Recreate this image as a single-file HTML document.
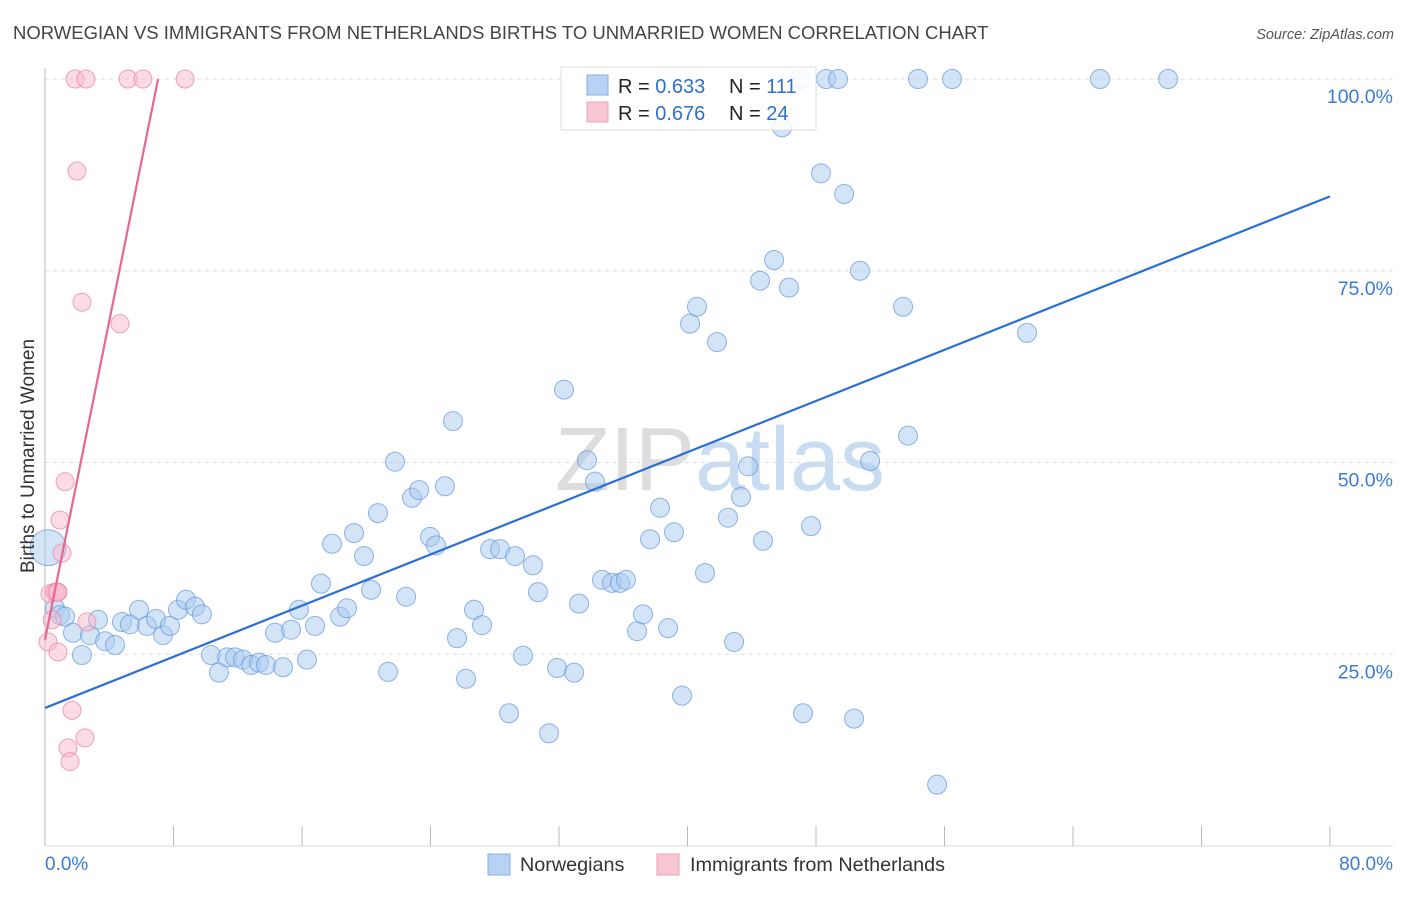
<!DOCTYPE html>
<html><head><meta charset="utf-8"><style>
body{margin:0;background:#fff;font-family:"Liberation Sans",sans-serif;}
svg text{font-family:"Liberation Sans",sans-serif;}
</style></head><body>
<svg id="chart" width="1406" height="892">
<text x="13" y="39" font-size="18.5" fill="#444">NORWEGIAN VS IMMIGRANTS FROM NETHERLANDS BIRTHS TO UNMARRIED WOMEN CORRELATION CHART</text>
<text x="1394" y="39" font-size="14.5" fill="#555" font-style="italic" text-anchor="end">Source: ZipAtlas.com</text>
<text x="720" y="490" font-size="90" fill="#ddd" text-anchor="middle" font-family="Liberation Serif">ZIP<tspan fill="#c8dcf2" font-family="Liberation Sans">atlas</tspan></text>
<g id="grid"></g><g id="pts"></g><g id="lines"></g>
<text transform="translate(34,456) rotate(-90)" font-size="19" fill="#333" text-anchor="middle">Births to Unmarried Women</text>
<g>
<rect x="561" y="67" width="255" height="63" fill="#fff" fill-opacity="0.85" stroke="#ddd"/>
<rect x="587" y="75" width="21" height="20" fill="#b8d2f3" stroke="#86aee6"/>
<rect x="587" y="102" width="21" height="20" fill="#f9c6d4" stroke="#f0a0b8"/>
<text x="618" y="93" font-size="20" fill="#222">R = <tspan fill="#2f6fd0">0.633</tspan></text>
<text x="729" y="93" font-size="20" fill="#222">N = <tspan fill="#2f6fd0">111</tspan></text>
<text x="618" y="120" font-size="20" fill="#222">R = <tspan fill="#2f6fd0">0.676</tspan></text>
<text x="729" y="120" font-size="20" fill="#222">N = <tspan fill="#2f6fd0">24</tspan></text>
</g>
<g>
<rect x="488" y="854" width="22" height="21" fill="#b8d2f3" stroke="#86aee6"/>
<text x="520" y="871" font-size="19.8" fill="#333">Norwegians</text>
<rect x="657" y="854" width="22" height="21" fill="#f9c6d4" stroke="#f0a0b8"/>
<text x="690" y="871" font-size="19.8" fill="#333">Immigrants from Netherlands</text>
</g>
<text x="45" y="870" font-size="19" fill="#3a7bd5">0.0%</text>
<text x="1393" y="870" font-size="19" fill="#3a7bd5" text-anchor="end">80.0%</text>
</svg>
<script>
const yTicks=[25,50,75,100];
const yTickLabels=["25.0%","50.0%","75.0%","100.0%"];
const xTicks=[0,8,16,24,32,40,48,56,64,72,80];
const blueX=[0.19,0.62,0.93,1.25,1.74,2.30,2.80,3.30,3.74,4.36,4.79,5.29,5.85,6.35,6.91,7.35,7.78,8.28,8.78,9.34,9.77,10.33,10.83,11.33,11.83,12.33,12.83,13.32,13.76,14.32,14.82,15.32,15.81,16.31,16.81,17.18,17.87,18.37,18.80,19.24,19.86,20.30,20.73,21.36,21.79,22.48,22.85,23.29,23.97,24.34,24.90,25.40,25.65,26.21,26.71,27.21,27.71,28.33,28.89,29.26,29.76,30.38,30.69,31.38,31.88,32.31,32.94,33.25,33.74,34.24,34.68,35.30,35.80,36.17,36.86,37.23,37.67,38.29,38.79,39.16,39.66,40.16,40.59,41.09,41.84,42.52,42.90,43.33,43.77,44.52,44.70,45.39,45.89,46.32,47.01,47.19,47.69,48.31,48.63,49.37,49.75,50.37,50.74,51.37,53.42,53.73,54.35,55.54,56.47,61.14,65.68,69.92];
const blueY=[38.9,31.0,30.1,29.9,27.8,24.9,27.5,29.5,26.7,26.2,29.2,28.9,30.8,28.7,29.6,27.5,28.7,30.8,32.1,31.2,30.2,24.9,22.6,24.6,24.6,24.3,23.6,23.9,23.6,27.8,23.3,28.2,30.8,24.3,28.7,34.2,39.4,29.9,31.0,40.8,37.8,33.4,43.4,22.7,50.1,32.5,45.4,46.4,40.3,39.2,46.9,55.4,27.1,21.8,30.8,28.8,38.7,38.7,17.3,37.8,24.8,36.6,33.1,14.7,23.2,59.5,22.6,31.6,50.3,47.5,34.7,34.3,34.3,34.7,28.0,30.2,40.0,44.1,28.4,40.9,19.6,68.1,70.3,35.6,65.7,42.8,26.6,45.5,49.5,73.7,39.8,76.4,93.7,72.8,100,17.3,41.7,87.7,100,100,85.0,16.6,75.0,50.2,70.3,53.5,100,8.0,100,66.9,100,100];
const pinkX=[0.19,0.31,0.44,0.62,0.81,0.81,1.06,0.93,1.25,1.43,1.56,1.68,1.99,1.87,2.49,2.61,2.30,4.67,2.55,5.17,6.10,8.72,0.75];
const pinkY=[26.6,32.9,29.5,33.1,25.3,33.1,38.2,42.5,47.5,12.8,11.0,17.7,88.0,100,14.1,29.2,70.9,68.1,100,100,100,100,33.1];
const blueTrend=[[0,18.0],[80,84.7]];
const pinkTrend=[[0,26.9],[7.04,100]];
const X=v=>45+v/80*1285, Y=v=>846-v/100*767;
const NS="http://www.w3.org/2000/svg";
function mk(p,t,a){const e=document.createElementNS(NS,t);for(const k in a)e.setAttribute(k,a[k]);p.appendChild(e);return e;}
const grid=document.getElementById('grid');
yTicks.forEach((t,i)=>{
 const l=mk(grid,'line',{x1:45,x2:1393,y1:Y(t),y2:Y(t),stroke:'#ddd','stroke-dasharray':'4,4'});
 
 
 const tx=mk(grid,'text',{x:1393,y:Y(t)+24,'font-size':19.5,fill:'#3a7bd5','text-anchor':'end'});
 tx.textContent=yTickLabels[i];
 
 
});
const ax=mk(grid,'line',{x1:45,x2:45,y1:68,y2:846,stroke:'#bbb'});


const bx=mk(grid,'line',{x1:45,x2:1393,y1:846,y2:846,stroke:'#ddd'});


xTicks.forEach(t=>{
 const l=mk(grid,'line',{x1:X(t),x2:X(t),y1:826,y2:846,stroke:'#bbb'});
 
 
});
const pts=document.getElementById('pts');
blueX.forEach((x,i)=>{
 const c=mk(pts,'circle',{cx:X(x),cy:Y(blueY[i]),r:i===0?18:9.5,fill:'#a9c9f0','fill-opacity':0.5,stroke:'#5f95dc','stroke-opacity':0.7});
 
 
});
pinkX.forEach((x,i)=>{
 const c=mk(pts,'circle',{cx:X(x),cy:Y(pinkY[i]),r:9,fill:'#f7b9cc','fill-opacity':0.5,stroke:'#ec8aa8','stroke-opacity':0.8});
 
 
});
const lines=document.getElementById('lines');
const bl=mk(lines,'line',{x1:X(blueTrend[0][0]),y1:Y(blueTrend[0][1]),x2:X(blueTrend[1][0]),y2:Y(blueTrend[1][1]),stroke:'#2a6fd6','stroke-width':2.2});


const pl=mk(lines,'line',{x1:X(pinkTrend[0][0]),y1:Y(pinkTrend[0][1]),x2:X(pinkTrend[1][0]),y2:Y(pinkTrend[1][1]),stroke:'#e8668f','stroke-width':2.2});


</script>
</body></html>
